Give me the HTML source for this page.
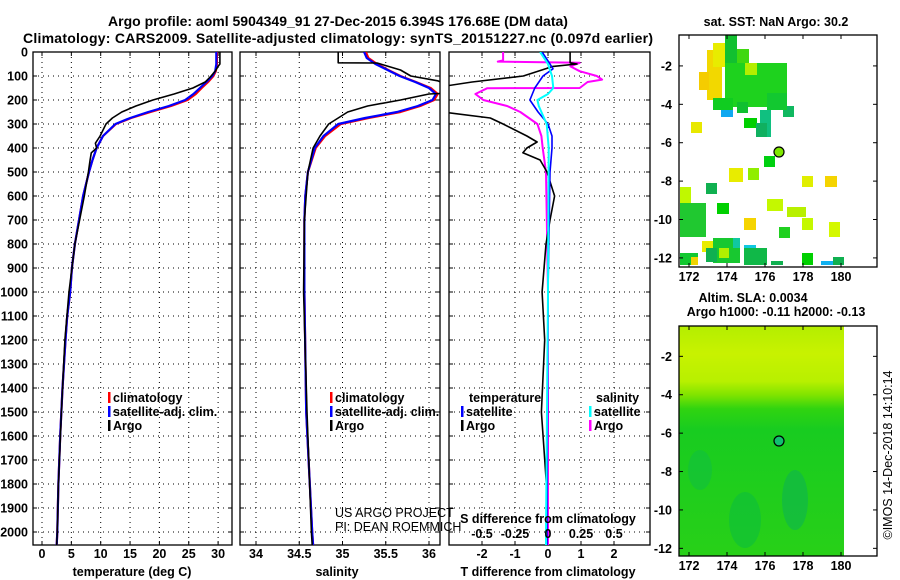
<!DOCTYPE html>
<html><head><meta charset="utf-8"><style>
html,body{margin:0;padding:0;background:#fff;}
svg{display:block;font-family:"Liberation Sans",sans-serif;}
.t{font-weight:bold;font-size:12.5px;fill:#000;}
.ti{font-weight:bold;font-size:14px;fill:#000;}
.g{stroke:#000;stroke-width:1;stroke-dasharray:1,4;}
.fr{fill:none;stroke:#000;stroke-width:1.3;}
</style></head><body>
<svg id="s" width="900" height="580" viewBox="0 0 900 580" xmlns="http://www.w3.org/2000/svg">
<defs>
<clipPath id="c1"><rect x="33" y="52" width="199" height="493"/></clipPath>
<clipPath id="c2"><rect x="240" y="52" width="200" height="493"/></clipPath>
<clipPath id="c3"><rect x="449" y="52" width="201" height="493"/></clipPath>
<linearGradient id="slag" x1="0" y1="0" x2="0" y2="1">
<stop offset="0" stop-color="#b4ee00"/><stop offset="0.12" stop-color="#c8f200"/>
<stop offset="0.24" stop-color="#b8f000"/><stop offset="0.3" stop-color="#80e400"/>
<stop offset="0.36" stop-color="#30d410"/><stop offset="0.45" stop-color="#18cc20"/><stop offset="1" stop-color="#28d018"/></linearGradient>
</defs>
<text class="ti" x="338" y="26" text-anchor="middle">Argo profile: aoml 5904349_91 27-Dec-2015 6.394S 176.68E (DM data)</text>
<text class="ti" x="338" y="43" text-anchor="middle" textLength="630">Climatology: CARS2009. Satellite-adjusted climatology: synTS_20151227.nc (0.097d earlier)</text>
<g id="yl"></g>
<g id="p1"></g>
<g id="p2"></g>
<g id="p3"></g>
<g id="m1"></g>
<g id="m2"></g>
<text class="t" x="335" y="517" style="font-weight:normal">US ARGO PROJECT</text>
<text class="t" x="335" y="531" style="font-weight:normal">PI: DEAN ROEMMICH</text>
<text class="t" x="776" y="26" text-anchor="middle">sat. SST: NaN Argo: 30.2</text>
<text class="t" x="753" y="302" text-anchor="middle">Altim. SLA: 0.0034</text>
<text class="t" x="776" y="316" text-anchor="middle">Argo h1000: -0.11 h2000: -0.13</text>
<text x="892" y="455" font-size="12.5" text-anchor="middle" transform="rotate(-90 892 455)">©IMOS 14-Dec-2018 14:10:14</text>
</svg>
<script>
// depth axis
var depthTicks=[0,100,200,300,400,500,600,700,800,900,1000,1100,1200,1300,1400,1500,1600,1700,1800,1900,2000];
// temperature
var tDepth=[0,50,80,100,125,150,175,200,225,250,275,300,350,400,450,500,600,700,800,900,1000,1100,1200,1400,1600,1800,2000,2054];
var tClim=[29.8,29.8,29.6,29.2,28.3,27.2,26.2,24.8,22,18.5,15.2,12.6,10.4,9.3,8.6,8.0,7.0,6.3,5.6,5.1,4.8,4.3,4.0,3.5,3.1,2.8,2.6,2.5];
var tSat=[29.7,29.7,29.5,29.0,28.0,26.9,25.8,24.4,21.6,18.1,15.0,12.5,10.4,9.3,8.6,8.0,7.0,6.3,5.6,5.1,4.8,4.3,4.0,3.5,3.1,2.8,2.6,2.5];
var taDepth=[0,50,60,80,100,125,150,175,200,225,250,275,300,350,380,400,420,450,500,600,700,800,1000,1200,1500,1800,2000,2054];
var tArgo=[30.3,30.3,30.0,29.5,28.8,27.8,25.7,22.5,18.9,16,13.6,12,10.9,9.9,9.1,9.3,8.4,8.2,7.9,7.2,6.4,5.6,4.6,3.9,3.3,2.8,2.6,2.5];
var tTicks=[0,5,10,15,20,25,30];
// salinity
var sDepth=[0,25,50,75,100,125,150,175,200,225,250,275,300,350,400,500,600,700,1000,1500,2000,2054];
var sClim=[35.27,35.3,35.4,35.53,35.67,35.85,36.02,36.1,36.06,35.9,35.67,35.3,34.98,34.8,34.69,34.6,34.57,34.56,34.56,34.58,34.65,34.66];
var sSat=[35.25,35.28,35.38,35.52,35.66,35.84,36.0,36.08,36.04,35.87,35.63,35.26,34.95,34.78,34.68,34.6,34.57,34.56,34.56,34.58,34.65,34.66];
var saDepth=[0,45,46,75,100,120,150,170,175,200,225,250,300,350,400,500,700,1000,1500,2000,2054];
var sArgo=[34.95,34.95,35.4,35.67,35.79,36.1,36.3,36.3,36.0,35.67,35.29,35.06,34.84,34.74,34.66,34.6,34.56,34.55,34.59,34.64,34.65];
var sTicks=[34,34.5,35,35.5,36];
var sTickLabels=["34","34.5","35","35.5","36"];
// differences
var dtaDepth=[0,45,50,60,100,125,150,250,275,300,350,375,400,420,450,500,600,700,800,1000,1200,1500,1800,2000,2054];
var dTArgo=[0.67,0.67,0.88,0.15,-0.75,-2.3,-3.5,-3.2,-1.75,-1.36,-0.64,-0.33,-0.64,-0.76,-0.24,-0.03,0.2,0.06,-0.06,-0.18,-0.1,-0.2,-0.05,-0.05,-0.05];
var dtsDepth=[0,50,70,100,150,200,250,300,350,400,500,1000,2000,2054];
var dTSat=[-0.18,0.06,0.15,-0.15,-0.4,-0.55,-0.3,0,0.12,0.12,0.06,0,-0.03,-0.03];
var dsaDepth=[0,35,40,45,60,80,100,115,125,150,151,175,200,225,250,300,350,400,500,1000,2000,2054];
var dSArgo=[-0.34,-0.34,-0.38,0.24,0.17,0.24,0.37,0.41,0.3,0.24,-0.46,-0.55,-0.49,-0.31,-0.21,-0.08,-0.05,-0.04,-0.015,0.0,0.0,0.0];
var dssDepth=[0,50,100,150,175,200,225,250,300,400,1000,2000,2054];
var dSSat=[-0.06,0,0.03,0.04,0,-0.08,-0.07,-0.05,-0.01,0.005,0,-0.015,-0.015];
var dTTicks=[-2,-1,0,1,2];
var dSTicks=[-0.5,-0.25,0,0.25,0.5];
var dSTickLabels=["-0.5","-0.25","0","0.25","0.5"];
var lonTicks=[172,174,176,178,180];
var latTicks=[-2,-4,-6,-8,-10,-12];

var NS="http://www.w3.org/2000/svg";
function mk(tag,attrs,parent){var e=document.createElementNS(NS,tag);for(var k in attrs)e.setAttribute(k,attrs[k]);parent.appendChild(e);return e;}
function yD(d){return 52+d*0.24;}
var PB=545;

var yl=document.getElementById('yl');
depthTicks.forEach(function(d){
  var t=mk('text',{x:28,y:yD(d)+4.5,'text-anchor':'end','class':'t'},yl);
  
  
  t.textContent=d;
});

function panel(g,x0,x1,gridXs,clipId){
  depthTicks.forEach(function(d){ if(d>0){var l=mk('line',{x1:x0,x2:x1,y1:yD(d),y2:yD(d),'class':'g'},g);
    
    mk('line',{x1:x0,x2:x0+4,y1:yD(d),y2:yD(d),stroke:'#000'},g);mk('line',{x1:x1-4,x2:x1,y1:yD(d),y2:yD(d),stroke:'#000'},g);}});
  gridXs.forEach(function(x){var l=mk('line',{x1:x,x2:x,y1:52,y2:PB,'class':'g'},g);
    
    mk('line',{x1:x,x2:x,y1:PB-4,y2:PB,stroke:'#000'},g);mk('line',{x1:x,x2:x,y1:52,y2:56,stroke:'#000'},g);});
  var r=mk('rect',{x:x0,y:52,width:x1-x0,height:PB-52,'class':'fr'},g);
  
  var c=mk('g',{'clip-path':'url(#'+clipId+')'},g);
  return c;
}
function line(g,depths,vals,xf,color,w,name){
  var p=depths.map(function(d,i){return xf(vals[i]).toFixed(1)+','+yD(d).toFixed(1);}).join(' ');
  var e=mk('polyline',{points:p,fill:'none',stroke:color,'stroke-width':w,'stroke-linejoin':'round'},g);
  
  
}
function label(g,x,y,txt,name,anchor,cls){
  var t=mk('text',{x:x,y:y,'text-anchor':anchor||'middle','class':cls||'t'},g);
  
  
  t.textContent=txt;return t;
}
function legend(g,x,y,color,txt){
  mk('rect',{x:x,y:y-10,width:2.5,height:11,fill:color},g);
  var t=label(g,x+5,y,txt,'legend-entry','start');
}

// panel 1
var p1=document.getElementById('p1');
function xT(v){return 42+v*5.87;}
var c1=panel(p1,33,232,tTicks.map(xT),'c1');
line(c1,tDepth,tClim,xT,'#f00',2.2,'climatology-temperature-line');
line(c1,tDepth,tSat,xT,'#00f',2.2,'satellite-temperature-line');
line(c1,taDepth,tArgo,xT,'#000',1.6,'argo-temperature-line');
tTicks.forEach(function(v){label(p1,xT(v),558,String(v),'x-tick-label');});
label(p1,132,576,'temperature (deg C)','x-axis-title');
legend(p1,108,402,'#f00','climatology');legend(p1,108,416,'#00f','satellite-adj. clim.');legend(p1,108,430,'#000','Argo');

// panel 2
var p2=document.getElementById('p2');
function xS(v){return 256+(v-34)*86.5;}
var c2=panel(p2,240,440,sTicks.map(xS),'c2');
line(c2,sDepth,sClim,xS,'#f00',2.2,'climatology-salinity-line');
line(c2,sDepth,sSat,xS,'#00f',2.2,'satellite-salinity-line');
line(c2,saDepth,sArgo,xS,'#000',1.6,'argo-salinity-line');
sTicks.forEach(function(v,i){label(p2,xS(v),558,sTickLabels[i],'x-tick-label');});
label(p2,337,576,'salinity','x-axis-title');
legend(p2,330,402,'#f00','climatology');legend(p2,330,416,'#00f','satellite-adj. clim.');legend(p2,330,430,'#000','Argo');

// panel 3
var p3=document.getElementById('p3');
function xDT(v){return 548+v*33;}
function xDS(v){return 548+v*132;}
var c3=panel(p3,449,650,dTTicks.map(xDT),'c3');
line(c3,dsaDepth,dSArgo,xDS,'#f0f',2,'argo-salinity-diff-line');
line(c3,dtaDepth,dTArgo,xDT,'#000',1.6,'argo-temperature-diff-line');
line(c3,dtsDepth,dTSat,xDT,'#00f',1.6,'satellite-temperature-diff-line');
line(c3,dssDepth,dSSat,xDS,'#0ff',2,'satellite-salinity-diff-line');
dTTicks.forEach(function(v){label(p3,xDT(v),558,String(v),'x-tick-label');});
dSTicks.forEach(function(v,i){label(p3,xDS(v),538,dSTickLabels[i],'s-diff-tick-label');});
label(p3,548,523,'S difference from climatology','s-diff-axis-title');
label(p3,548,576,'T difference from climatology','x-axis-title');
label(p3,469,402,'temperature','legend-heading','start');label(p3,596,402,'salinity','legend-heading','start');
legend(p3,461,416,'#00f','satellite');legend(p3,461,430,'#000','Argo');
legend(p3,589,416,'#0ff','satellite');legend(p3,589,430,'#f0f','Argo');

// maps
function mapFrame(g,top,bot,latTop,latPer){
  function mx(l){return 689+(l-172)*19;}
  lonTicks.forEach(function(l){label(g,mx(l),bot+14,String(l),'lon-tick-label');
    mk('line',{x1:mx(l),x2:mx(l),y1:bot-4,y2:bot,stroke:'#000'},g);mk('line',{x1:mx(l),x2:mx(l),y1:top,y2:top+4,stroke:'#000'},g);});
  latTicks.forEach(function(l){var y=top+(latTop-l)*latPer;label(g,672,y+4.5,String(l),'lat-tick-label','end');
    mk('line',{x1:679,x2:683,y1:y,y2:y,stroke:'#000'},g);mk('line',{x1:873,x2:877,y1:y,y2:y,stroke:'#000'},g);});
  var r=mk('rect',{x:679,y:top,width:198,height:bot-top,'class':'fr'},g);
  
}
var m1=document.getElementById('m1');
var cells=[
[707,50,15,50,'#f2d800'],[713,43,15,24,'#e8ec00'],[699,72,10,18,'#f5cc00'],[725,63,62,44,'#1ed21e'],[725,35,12,28,'#12c030'],
[737,49,12,14,'#40d810'],[745,63,12,12,'#b4ee00'],[713,98,20,12,'#10cc20'],[721,110,12,7,'#10a8f0'],[737,102,11,11,'#10c030'],
[744,118,13,10,'#00d000'],[760,110,11,27,'#10c080'],[756,123,11,14,'#10b060'],[783,106,11,11,'#10b860'],[767,93,20,17,'#12c830'],
[691,122,11,11,'#e8e800'],[764,156,11,11,'#00d010'],[729,168,14,14,'#e8ec00'],[748,168,11,12,'#90ee00'],[802,176,11,11,'#e0ee00'],
[825,176,12,11,'#f5d400'],[706,183,11,11,'#10b050'],[680,187,11,20,'#c0f800'],[767,199,16,12,'#c4f800'],[717,203,12,11,'#00d000'],
[787,207,19,10,'#b8f000'],[680,203,26,34,'#20c830'],[744,218,12,12,'#f5d400'],[802,218,11,12,'#c4f800'],[779,227,11,11,'#20d020'],
[829,222,11,15,'#d4f800'],[702,241,12,11,'#e8ec00'],[713,238,27,25,'#18c830'],[733,238,7,10,'#10c8a0'],[744,245,12,7,'#10c8e0'],
[744,248,23,17,'#10b848'],[680,253,18,12,'#12c830'],[691,257,7,8,'#f0d400'],[706,248,11,14,'#10b050'],[771,261,12,4,'#10b050'],
[802,253,11,12,'#00d000'],[821,261,12,4,'#10b0f0'],[833,257,11,8,'#10b050'],[719,248,10,10,'#b0f000']];
cells.forEach(function(c){var r=mk('rect',{x:c[0],y:c[1],width:c[2],height:c[3],fill:c[4]},m1);
  });
var ci=mk('circle',{cx:779,cy:152,r:5,fill:'#80e800',stroke:'#000','stroke-width':1.2},m1);

mapFrame(m1,35,267,-0.39,19.2);

var m2=document.getElementById('m2');
var bg=mk('rect',{x:679,y:326,width:165,height:230,fill:'url(#slag)'},m2);

mk('ellipse',{cx:745,cy:520,rx:16,ry:28,fill:'#10c038',opacity:0.7},m2);
mk('ellipse',{cx:795,cy:500,rx:13,ry:30,fill:'#10b848',opacity:0.7},m2);
mk('ellipse',{cx:700,cy:470,rx:12,ry:20,fill:'#10c040',opacity:0.6},m2);
var c2m=mk('circle',{cx:779,cy:441,r:5,fill:'#10c070',stroke:'#000','stroke-width':1.2},m2);

mapFrame(m2,326,556,-0.42,19.2);
</script>
</body></html>
